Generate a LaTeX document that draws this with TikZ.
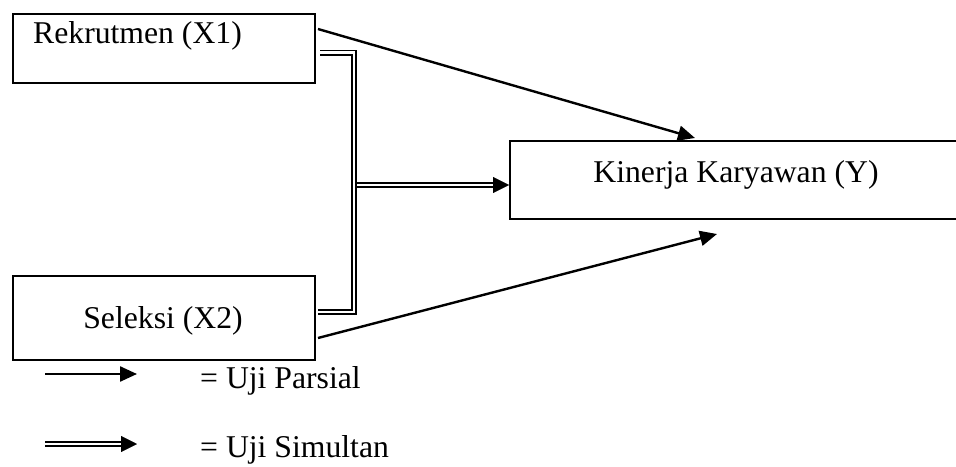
\documentclass[tikz,border=0pt]{standalone}
\usepackage{fontspec}
\setmainfont{Liberation Serif}
\usetikzlibrary{arrows.meta}
\begin{document}
\begin{tikzpicture}[x=1pt,y=-1pt,
  box/.style={draw, line width=2pt, inner sep=0pt, anchor=north west},
  lbl/.style={inner sep=0pt, font=\fontsize{31.7}{38}\selectfont},
  partial/.style={line width=2.4pt, -{Triangle[length=17pt,width=15pt]}},
  dbl/.style={double, double distance=2.8pt, line width=1.6pt, line join=miter},
  tiponly/.style={line width=0.4pt, -{Triangle[length=16pt,width=16pt]}}]
\useasboundingbox (0,0) rectangle (956,466);
\clip (0,0) rectangle (956,466);
% boxes
\node[box, minimum width=302pt, minimum height=69pt] (r) at (12,13) {};
\node[box, minimum width=302pt, minimum height=84pt] (s) at (12,275) {};
\node[box, minimum width=470pt, minimum height=78pt] (y) at (509,140) {};
% texts
\node[lbl, anchor=base west] (rt) at (33,43) {Rekrutmen (X1)};
\node[lbl, anchor=base] (st) at (163,328) {Seleksi (X2)};
\node[lbl, anchor=base] (yt) at (736,182) {Kinerja Karyawan (Y)};
% partial arrows
\coordinate (p1) at (318,29);
\coordinate (p1e) at (695,138);
\coordinate (p2) at (318,338);
\coordinate (p2e) at (717,234);
\draw[partial] (p1) -- (p1e);
\draw[partial] (p2) -- (p2e);
% simultaneous
\coordinate (d1) at (320,52.5);
\coordinate (c1) at (354,52.5);
\coordinate (c2) at (354,312);
\coordinate (d2) at (318,312);
\draw[dbl] (d1) -- (c1) -- (c2) -- (d2);
\coordinate (m1) at (357,185);
\coordinate (m2) at (494,185);
\coordinate (m3) at (509,185);
\draw[dbl] (m1) -- (m2);
\draw[tiponly] (m2) -- (m3);
% legend
\coordinate (l1) at (45,374);
\coordinate (l1e) at (137,374);
\draw[partial] (l1) -- (l1e);
\node[lbl, anchor=base west] (lt1) at (200,388) {= Uji Parsial};
\coordinate (l2) at (45,444);
\coordinate (l2m) at (122,444);
\coordinate (l2e) at (137,444);
\draw[dbl] (l2) -- (l2m);
\draw[tiponly] (l2m) -- (l2e);
\node[lbl, anchor=base west] (lt2) at (200,457) {= Uji Simultan};
\end{tikzpicture}
\end{document}
